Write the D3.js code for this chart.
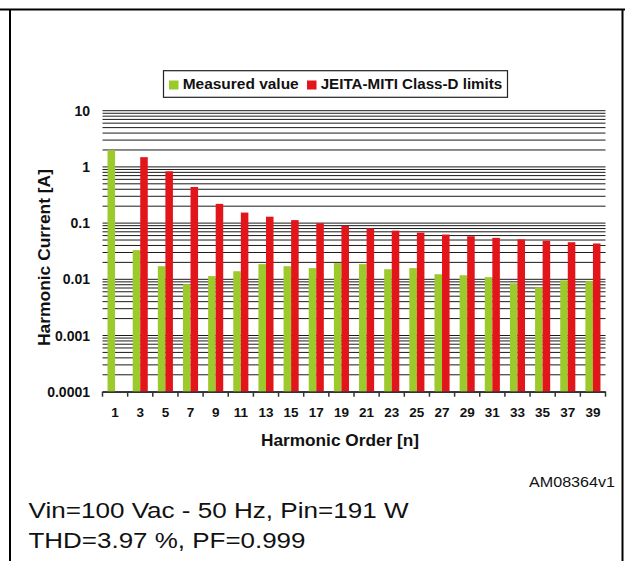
<!DOCTYPE html>
<html>
<head>
<meta charset="utf-8">
<script src="https://cdn.jsdelivr.net/npm/d3@7"></script>
<style>
  body { margin: 0; background: #fff; }
  svg { display: block; font-family: "Liberation Sans", Arial, sans-serif; }
</style>
</head>
<body>
<script>
// Harmonic orders on the x axis
var harmonics = [1, 3, 5, 7, 9, 11, 13, 15, 17, 19, 21, 23, 25, 27, 29, 31, 33, 35, 37, 39];

// Measured harmonic current [A]
var measured = [1.98, 0.033, 0.0171, 0.0082, 0.0114, 0.0139, 0.0186, 0.0171, 0.0158, 0.0194,
                0.0186, 0.0151, 0.0158, 0.0123, 0.0118, 0.0109, 0.0085, 0.0072, 0.0096, 0.0093];

// JEITA-MITI Class-D limits [A] (no limit for the fundamental)
var limits = [null, 1.49, 0.835, 0.439, 0.22, 0.154, 0.13, 0.113, 0.0995, 0.089,
              0.0805, 0.0735, 0.0677, 0.0626, 0.0583, 0.0546, 0.0513, 0.0483, 0.0457, 0.0434];

// Decade labels on the y axis
var yTicks = [0.0001, 0.001, 0.01, 0.1, 1, 10];
var yTickLabels = ["0.0001", "0.001", "0.01", "0.1", "1", "10"];

var seriesNames = ["Measured value", "JEITA-MITI Class-D limits"];
var colors = ["#9cc92b", "#e2151a"];

var width = 625, height = 561;

var svg = d3.select("body").append("svg")
    .attr("width", width)
    .attr("height", height);

// outer frame
svg.append("line").attr("x1", 0).attr("x2", width).attr("y1", 9.5).attr("y2", 9.5)
    .attr("stroke", "#000").attr("stroke-width", 2);
svg.append("line").attr("x1", 10).attr("x2", 10).attr("y1", 9).attr("y2", height)
    .attr("stroke", "#000").attr("stroke-width", 2);
svg.append("line").attr("x1", 622.5).attr("x2", 622.5).attr("y1", 9).attr("y2", height)
    .attr("stroke", "#000").attr("stroke-width", 2);

// scales
var x = d3.scaleBand()
    .domain(harmonics)
    .range([102.5, 605.5])
    .paddingInner(0.4)
    .paddingOuter(0.2);

var xSub = d3.scaleBand()
    .domain([0, 1])
    .range([0, x.bandwidth()]);

var y = d3.scaleLog()
    .domain([1e-4, 10])
    .range([391.7, 110.7]);

// gridlines (major + minor)
svg.append("g")
  .selectAll("line")
  .data(y.ticks())
  .enter()
  .append("line")
    .attr("x1", 102.5)
    .attr("x2", 605.5)
    .attr("y1", function (d) { return y(d); })
    .attr("y2", function (d) { return y(d); })
    .attr("stroke", "#1a1a1a")
    .attr("stroke-width", 1);

// bars
var groups = svg.append("g")
  .selectAll("g")
  .data(harmonics)
  .enter()
  .append("g")
    .attr("transform", function (h) { return "translate(" + x(h) + ",0)"; });

groups.selectAll("rect")
    .data(function (h, i) {
        return [{ s: 0, v: measured[i] }, { s: 1, v: limits[i] }].filter(function (d) { return d.v !== null; });
    })
    .enter()
    .append("rect")
    .attr("x", function (d) { return xSub(d.s); })
    .attr("width", xSub.bandwidth())
    .attr("y", function (d) { return y(d.v); })
    .attr("height", function (d) { return y(1e-4) - y(d.v); })
    .attr("fill", function (d) { return colors[d.s]; });

// x axis: labels at category centres, ticks on category boundaries
var xAxis = svg.append("g")
    .attr("transform", "translate(0," + y(1e-4) + ")")
    .call(d3.axisBottom(x).tickSize(0).tickPadding(16));
xAxis.select(".domain").attr("stroke", "#333").attr("stroke-width", 1.5);
xAxis.selectAll("text")
    .attr("font-family", "Liberation Sans, Arial, sans-serif")
    .attr("font-size", 13.5)
    .attr("font-weight", "bold")
    .attr("fill", "#111");

svg.append("g")
  .selectAll("line")
  .data(d3.range(harmonics.length + 1))
  .enter()
  .append("line")
    .attr("x1", function (i) { return x.range()[0] + i * x.step(); })
    .attr("x2", function (i) { return x.range()[0] + i * x.step(); })
    .attr("y1", y(1e-4))
    .attr("y2", y(1e-4) + 5)
    .attr("stroke", "#333")
    .attr("stroke-width", 1.5);

// y axis labels
svg.append("g")
  .selectAll("text")
  .data(yTicks)
  .enter()
  .append("text")
    .attr("x", 90)
    .attr("y", function (d) { return y(d); })
    .attr("dy", "0.36em")
    .attr("text-anchor", "end")
    .attr("font-size", 14)
    .attr("font-weight", "bold")
    .attr("fill", "#111")
    .text(function (d, i) { return yTickLabels[i]; });

// axis titles
svg.append("text")
    .attr("x", 340)
    .attr("y", 446)
    .attr("text-anchor", "middle")
    .attr("font-size", 16)
    .attr("font-weight", "bold")
    .attr("fill", "#111")
    .attr("textLength", 158)
    .attr("lengthAdjust", "spacingAndGlyphs")
    .text("Harmonic Order [n]");

svg.append("text")
    .attr("transform", "translate(50,257.5) rotate(-90)")
    .attr("text-anchor", "middle")
    .attr("font-size", 16)
    .attr("font-weight", "bold")
    .attr("fill", "#111")
    .attr("textLength", 177)
    .attr("lengthAdjust", "spacingAndGlyphs")
    .text("Harmonic Current [A]");

// legend
var legend = svg.append("g");
legend.append("rect")
    .attr("x", 163.5).attr("y", 70.7)
    .attr("width", 344).attr("height", 26.6)
    .attr("fill", "#fff")
    .attr("stroke", "#222")
    .attr("stroke-width", 1.2);

var legendX = [169, 307];
var legendTextX = [182.7, 320.7];
var legendTextW = [116, 181.6];

seriesNames.forEach(function (name, i) {
    legend.append("rect")
        .attr("x", legendX[i]).attr("y", 80.5)
        .attr("width", 9.5).attr("height", 9)
        .attr("fill", colors[i]);
    legend.append("text")
        .attr("x", legendTextX[i])
        .attr("y", 89)
        .attr("font-size", 14)
        .attr("font-weight", "bold")
        .attr("fill", "#111")
        .attr("textLength", legendTextW[i])
        .attr("lengthAdjust", "spacingAndGlyphs")
        .text(name);
});

// figure code and notes
svg.append("text")
    .attr("x", 615)
    .attr("y", 486.7)
    .attr("text-anchor", "end")
    .attr("font-size", 14)
    .attr("fill", "#111")
    .attr("textLength", 86)
    .attr("lengthAdjust", "spacingAndGlyphs")
    .text("AM08364v1");

svg.append("text")
    .attr("x", 28.5)
    .attr("y", 517.7)
    .attr("font-size", 21.5)
    .attr("fill", "#111")
    .attr("textLength", 380)
    .attr("lengthAdjust", "spacingAndGlyphs")
    .text("Vin=100 Vac - 50 Hz, Pin=191 W");

svg.append("text")
    .attr("x", 28.5)
    .attr("y", 548.3)
    .attr("font-size", 21.5)
    .attr("fill", "#111")
    .attr("textLength", 277)
    .attr("lengthAdjust", "spacingAndGlyphs")
    .text("THD=3.97 %, PF=0.999");
</script>
</body>
</html>
